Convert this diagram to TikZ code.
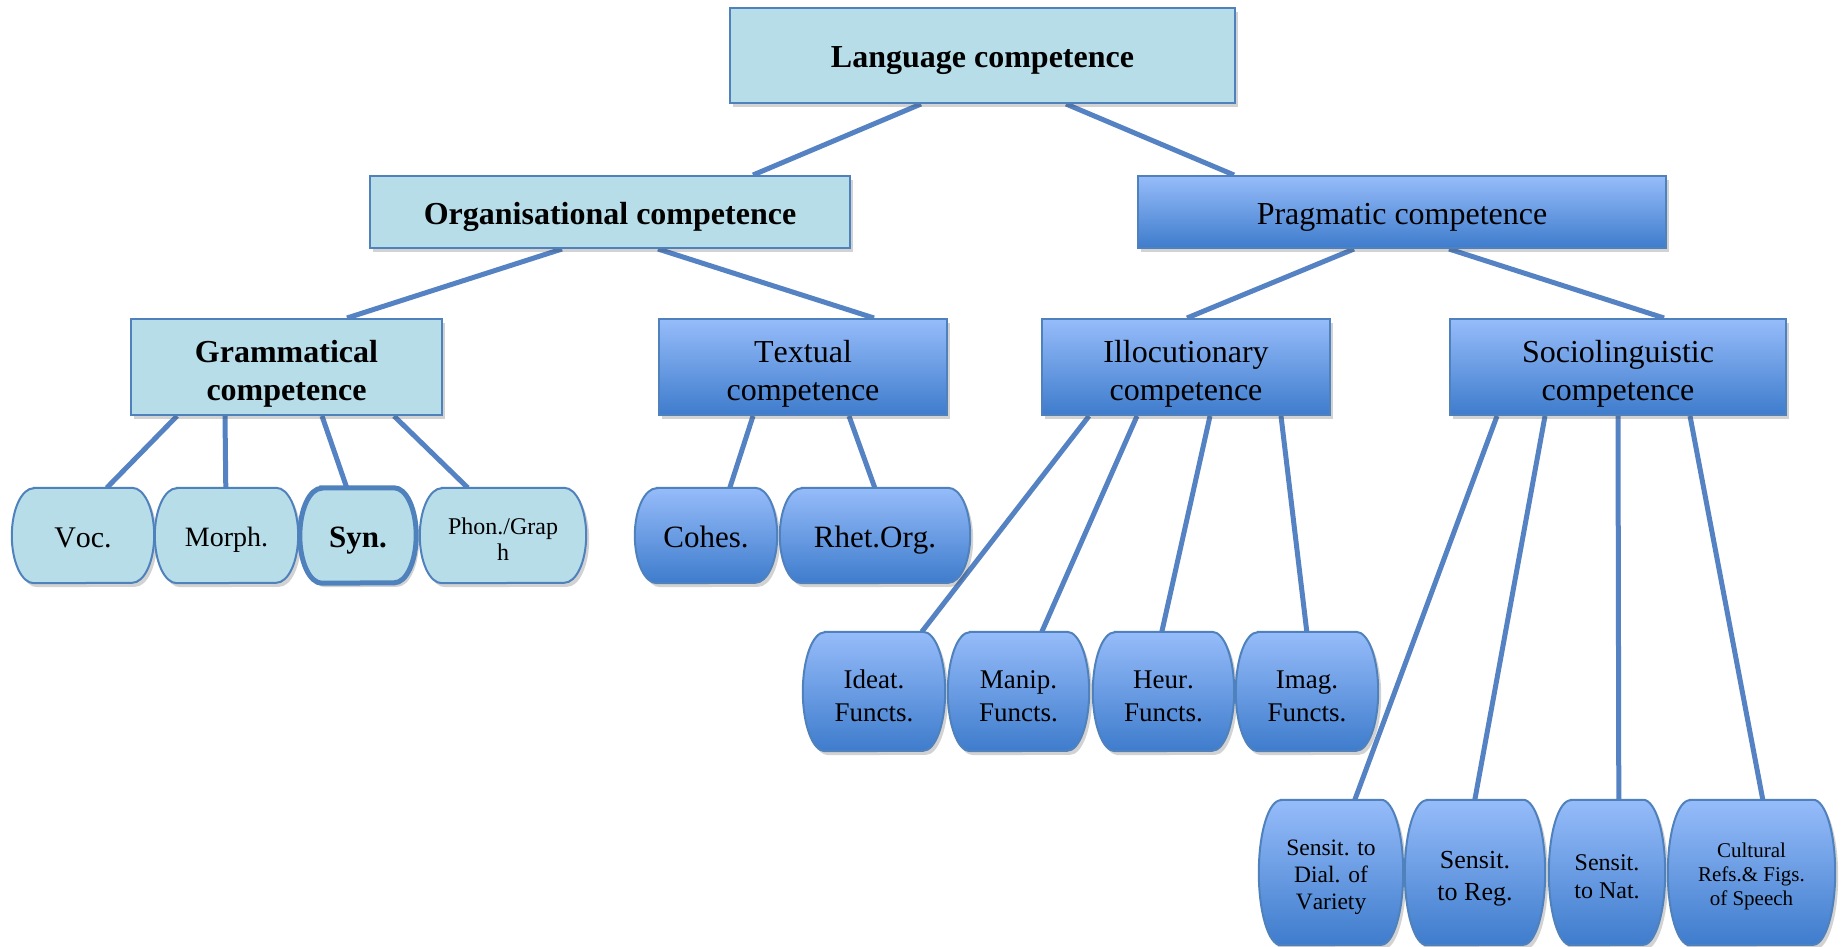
\documentclass[tikz,border=0pt]{standalone}
\usepackage{fontspec}
\setmainfont{Liberation Serif}[Kerning=Off]
\usetikzlibrary{shadows}
\definecolor{lightfill}{RGB}{183,221,232}
\definecolor{edgeblue}{RGB}{79,129,189}
\definecolor{topblue}{RGB}{150,188,250}
\definecolor{botblue}{RGB}{62,124,204}
\definecolor{connblue}{RGB}{84,130,195}
\pgfdeclarelayer{connlayer}
\pgfdeclarelayer{boxlayer}
\pgfsetlayers{connlayer,boxlayer,main}
\newcommand\onestrut{\rule[\dimexpr0.4em-0.5\baselineskip\relax]{0pt}{\baselineskip}}
\newcommand\topstrut{\rule{0pt}{\dimexpr0.5\baselineskip+0.5em\relax}}
\newcommand\botstrut{\rule[\dimexpr0.5em-0.5\baselineskip\relax]{0pt}{\dimexpr0.5\baselineskip-0.5em\relax}}
\newcommand\ml[1]{\topstrut#1\botstrut}
\newcommand\barrelshape[3]{%
  \begin{pgfonlayer}{boxlayer}
  \path[#2] ([xshift=22pt]#1.north west) -- ([xshift=-22pt]#1.north east)
    arc[start angle=90,end angle=-90,x radius=22pt,y radius=#3]
    -- ([xshift=22pt]#1.south west)
    arc[start angle=270,end angle=90,x radius=22pt,y radius=#3] -- cycle;
  \end{pgfonlayer}}
\tikzset{
  shad/.style={drop shadow={opacity=0.25,shadow xshift=3pt,shadow yshift=-4pt,fill=black!70}},
  txt/.style={align=center,inner sep=0pt},
  one/.style={execute at begin node=\onestrut,execute at end node=\onestrut},
  lightbox/.style={rectangle,draw=edgeblue,line width=2pt,fill=lightfill,shad,txt},
  darkbox/.style={rectangle,draw=edgeblue,line width=2pt,top color=topblue,bottom color=botblue,shad,txt},
  leaf/.style={rectangle,txt},
  lightleaf/.style={draw=edgeblue,line width=2pt,fill=lightfill,shad},
  darkleaf/.style={draw=edgeblue,line width=2pt,top color=topblue,bottom color=botblue,shad},
  link/.style={draw=connblue,line width=5pt},
  bigtxt/.style={font=\fontsize{32}{38}\selectfont},
  bigbold/.style={font=\fontsize{32}{38}\selectfont\bfseries},
}
\begin{document}
\begin{tikzpicture}[x=1pt,y=-1pt]
\useasboundingbox (0,0) rectangle (1844,946);
% level 0-2
\node[lightbox,bigbold,one,minimum width=505pt,minimum height=95pt] (lang) at (982.5,55.5) {Language competence};
\node[lightbox,bigbold,one,minimum width=480pt,minimum height=72pt] (org) at (610,212) {Organisational competence};
\node[darkbox,bigtxt,one,minimum width=528pt,minimum height=72pt] (prag) at (1402,212) {Pragmatic competence};
\node[lightbox,bigbold,minimum width=311pt,minimum height=96pt] (gram) at (286.5,367) {\ml{Grammatical\\competence}};
\node[darkbox,bigtxt,minimum width=288pt,minimum height=96pt] (text) at (803,367) {\ml{Textual\\competence}};
\node[darkbox,bigtxt,minimum width=288pt,minimum height=96pt] (illoc) at (1186,367) {\ml{Illocutionary\\competence}};
\node[darkbox,bigtxt,minimum width=336pt,minimum height=96pt] (socio) at (1618,367) {\ml{Sociolinguistic\\competence}};
% leaves row 1
\node[leaf,one,minimum width=142pt,minimum height=95pt,font=\fontsize{30}{35}\selectfont] (voc) at (83,535.5) {Voc.};
\node[leaf,one,minimum width=143pt,minimum height=95pt,font=\fontsize{28}{33}\selectfont] (morph) at (226.5,535.5) {Morph.};
\node[leaf,one,minimum width=116pt,minimum height=95pt,font=\fontsize{31}{36}\selectfont\bfseries] (syn) at (358,535.5) {Syn.};
\node[leaf,minimum width=166pt,minimum height=95pt,font=\fontsize{24}{26}\selectfont] (phon) at (503,535.5) {\ml{Phon./Grap\\h}};
\node[leaf,one,minimum width=142pt,minimum height=95pt,font=\fontsize{31}{36}\selectfont] (cohes) at (706,535.5) {Cohes.};
\node[leaf,one,minimum width=190pt,minimum height=95pt,font=\fontsize{31}{36}\selectfont] (rhet) at (875,535.5) {Rhet.Org.};
\barrelshape{voc}{lightleaf}{47.5pt}
\barrelshape{morph}{lightleaf}{47.5pt}
\barrelshape{syn}{lightleaf,line width=5pt}{47.5pt}
\barrelshape{phon}{lightleaf}{47.5pt}
\barrelshape{cohes}{darkleaf}{47.5pt}
\barrelshape{rhet}{darkleaf}{47.5pt}
% functions row
\node[leaf,minimum width=142pt,minimum height=119pt,font=\fontsize{27}{33}\selectfont] (ideat) at (874,691.5) {\ml{Ideat.\\Functs.}};
\node[leaf,minimum width=141pt,minimum height=119pt,font=\fontsize{27}{33}\selectfont] (manip) at (1018.5,691.5) {\ml{Manip.\\Functs.}};
\node[leaf,minimum width=141pt,minimum height=119pt,font=\fontsize{27}{33}\selectfont] (heur) at (1163.5,691.5) {\ml{Heur.\\Functs.}};
\node[leaf,minimum width=142pt,minimum height=119pt,font=\fontsize{27}{33}\selectfont] (imag) at (1307,691.5) {\ml{Imag.\\Functs.}};
\barrelshape{ideat}{darkleaf}{59.5pt}
\barrelshape{manip}{darkleaf}{59.5pt}
\barrelshape{heur}{darkleaf}{59.5pt}
\barrelshape{imag}{darkleaf}{59.5pt}
% sensitivity row
\node[leaf,minimum width=144pt,minimum height=145pt,font=\fontsize{23.5}{27}\selectfont] (dial) at (1331,872.5) {\ml{Sensit. to\\Dial. of\\Variety}};
\node[leaf,minimum width=140pt,minimum height=145pt,font=\fontsize{26}{32}\selectfont] (reg) at (1475,872.5) {\ml{Sensit.\\to Reg.}};
\node[leaf,minimum width=116pt,minimum height=145pt,font=\fontsize{24}{28}\selectfont] (nat) at (1607,872.5) {\ml{Sensit.\\to Nat.}};
\node[leaf,minimum width=167pt,minimum height=145pt,font=\fontsize{21}{24}\selectfont] (cult) at (1751.5,872.5) {\ml{Cultural\\Refs.\& Figs.\\of Speech}};
\barrelshape{dial}{darkleaf}{72.5pt}
\barrelshape{reg}{darkleaf}{72.5pt}
\barrelshape{nat}{darkleaf}{72.5pt}
\barrelshape{cult}{darkleaf}{72.5pt}
% connectors
\begin{pgfonlayer}{connlayer}
\draw[link] ([xshift=192pt]lang.south west) -- ([xshift=384pt]org.north west);
\draw[link] ([xshift=337pt]lang.south west) -- ([xshift=97pt]prag.north west);
\draw[link] ([xshift=193pt]org.south west) -- ([xshift=217pt]gram.north west);
\draw[link] ([xshift=289pt]org.south west) -- ([xshift=216pt]text.north west);
\draw[link] ([xshift=217pt]prag.south west) -- ([xshift=146pt]illoc.north west);
\draw[link] ([xshift=312pt]prag.south west) -- ([xshift=215pt]socio.north west);
\draw[link] ([xshift=47pt]gram.south west) -- ([xshift=95pt]voc.north west);
\draw[link] ([xshift=95pt]gram.south west) -- ([xshift=71pt]morph.north west);
\draw[link] ([xshift=192pt]gram.south west) -- ([xshift=47pt]syn.north west);
\draw[link] ([xshift=264pt]gram.south west) -- ([xshift=48pt]phon.north west);
\draw[link] ([xshift=95pt]text.south west) -- ([xshift=95pt]cohes.north west);
\draw[link] ([xshift=191pt]text.south west) -- ([xshift=95pt]rhet.north west);
\draw[link] ([xshift=48pt]illoc.south west) -- ([xshift=119pt]ideat.north west);
\draw[link] ([xshift=96pt]illoc.south west) -- ([xshift=94pt]manip.north west);
\draw[link] ([xshift=169pt]illoc.south west) -- ([xshift=69pt]heur.north west);
\draw[link] ([xshift=240pt]illoc.south west) -- ([xshift=71pt]imag.north west);
\draw[link] ([xshift=48pt]socio.south west) -- ([xshift=96pt]dial.north west);
\draw[link] ([xshift=96pt]socio.south west) -- ([xshift=70pt]reg.north west);
\draw[link] ([xshift=169pt]socio.south west) -- ([xshift=70pt]nat.north west);
\draw[link] ([xshift=241pt]socio.south west) -- ([xshift=95pt]cult.north west);
\end{pgfonlayer}
\end{tikzpicture}
\end{document}
